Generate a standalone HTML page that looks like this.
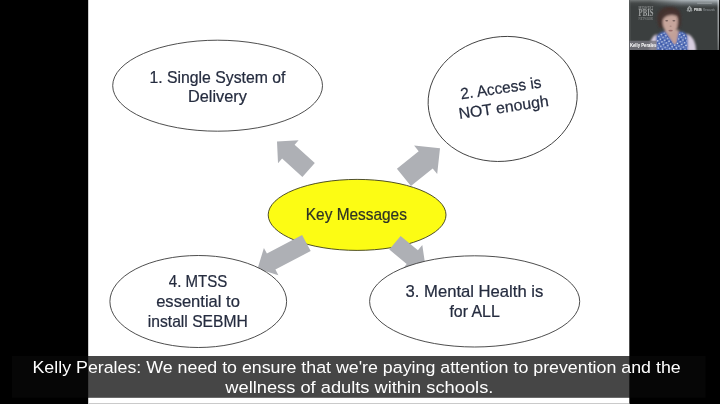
<!DOCTYPE html>
<html><head><meta charset="utf-8"><title>Key Messages</title>
<style>
html,body{margin:0;padding:0;background:#000;}
body{width:720px;height:404px;overflow:hidden;position:relative;font-family:"Liberation Sans",sans-serif;}
svg{position:absolute;left:0;top:0;display:block;opacity:0.999}
.t{font-family:"Liberation Sans",sans-serif;font-size:15.7px;fill:#252c3f;stroke:#252c3f;stroke-width:0.22px}
.cap{font-family:"Liberation Sans",sans-serif;font-size:17.4px;fill:#fff}
</style></head><body>
<svg width="720" height="404" viewBox="0 0 720 404">
<defs>
<filter id="b1" x="-20%" y="-20%" width="140%" height="140%"><feGaussianBlur stdDeviation="0.8"/></filter>
<filter id="b2" x="-20%" y="-20%" width="140%" height="140%"><feGaussianBlur stdDeviation="0.45"/></filter>
<clipPath id="cam"><rect x="629.3" y="0" width="90" height="50.1"/></clipPath>
<linearGradient id="topg" x1="0" y1="0" x2="0" y2="1"><stop offset="0" stop-color="#747979"/><stop offset="0.4" stop-color="#4a4e4e" stop-opacity="0.7"/><stop offset="1" stop-color="#3b3f3f" stop-opacity="0"/></linearGradient>
<linearGradient id="topg2" x1="0" y1="0" x2="0" y2="1"><stop offset="0" stop-color="#b4bcc1"/><stop offset="0.45" stop-color="#7d858a" stop-opacity="0.7"/><stop offset="1" stop-color="#3b3f3f" stop-opacity="0"/></linearGradient>
<linearGradient id="hmg" x1="0" y1="0" x2="1" y2="0"><stop offset="0" stop-color="#000"/><stop offset="0.45" stop-color="#ddd"/><stop offset="1" stop-color="#fff"/></linearGradient>
<mask id="hm" maskUnits="userSpaceOnUse" x="650" y="0" width="70" height="9"><rect x="650" y="0" width="70" height="9" fill="url(#hmg)"/></mask>
<linearGradient id="rg" x1="0" y1="0" x2="0" y2="1"><stop offset="0" stop-color="#d4d8db"/><stop offset="0.7" stop-color="#b4b8ba"/><stop offset="1" stop-color="#7f8383"/></linearGradient>
<linearGradient id="rmg" x1="0" y1="0" x2="1" y2="0"><stop offset="0" stop-color="#000"/><stop offset="0.6" stop-color="#999"/><stop offset="1" stop-color="#fff"/></linearGradient>
<mask id="rm" maskUnits="userSpaceOnUse" x="716" y="0" width="4" height="51"><rect x="716.6" y="0" width="2.8" height="51" fill="url(#rmg)"/></mask>
<pattern id="dots" patternUnits="userSpaceOnUse" x="655" y="31" width="4.4" height="4.6" patternTransform="rotate(14 670 40)"><rect width="4.4" height="4.6" fill="#4a66b3"/><circle cx="1.1" cy="1.2" r="0.85" fill="#e4eaf8"/><circle cx="3.3" cy="3.5" r="0.8" fill="#dbe3f5"/><circle cx="3.2" cy="1.1" r="0.55" fill="#2c4690"/><circle cx="1.0" cy="3.5" r="0.55" fill="#7f97d6"/></pattern>
<linearGradient id="camg" x1="0" y1="0" x2="0" y2="1"><stop offset="0" stop-color="#6c7070"/><stop offset="0.08" stop-color="#434747"/><stop offset="0.2" stop-color="#3b3f3e"/><stop offset="1" stop-color="#3a3d3d"/></linearGradient>
</defs>
<rect x="0" y="0" width="720" height="404" fill="#000"/>
<!-- slide -->
<rect x="88.2" y="0" width="541.1" height="404" fill="#fff"/>
<rect x="88.2" y="403.1" width="541.1" height="0.9" fill="#c4c4c4"/>
<!-- yellow center -->
<ellipse cx="357.1" cy="214.9" rx="88.9" ry="35.5" fill="#fcfc14" stroke="#3c3c1c" stroke-width="0.9"/>
<text class="t" x="305.80" y="220.1" textLength="101.09" lengthAdjust="spacingAndGlyphs" style="fill:#2e3326;stroke:#2e3326">Key Messages</text>
<!-- arrows -->
<g fill="#aeb0b5">
<polygon points="302.4,176.9 282.1,158.6 278.0,163.2 277.0,141.5 298.6,140.3 294.6,144.8 314.8,163.1"/>
<polygon points="396.9,168.8 418.7,151.2 414.1,145.5 440.0,148.3 437.2,174.1 432.7,168.4 410.9,186.0"/>
<polygon points="400.6,236.0 417.9,250.3 422.3,245.0 425.7,268.1 402.4,269.2 406.7,263.9 389.3,249.6"/>
<polygon points="310.7,251.0 275.4,269.6 278.4,275.3 257.6,268.7 263.9,247.9 266.9,253.5 302.1,234.9"/>
</g>
<!-- ellipse 1 -->
<ellipse cx="217.6" cy="85.7" rx="104.9" ry="45.5" fill="#fff" stroke="#3a3a3a" stroke-width="0.9"/>
<text class="t" x="149.51" y="83.0" textLength="135.93" lengthAdjust="spacingAndGlyphs">1. Single System of</text>
<text class="t" x="188.03" y="102.3" textLength="58.87" lengthAdjust="spacingAndGlyphs">Delivery</text>
<!-- ellipse 2 rotated -->
<ellipse cx="0" cy="0" rx="74.8" ry="62.2" transform="translate(502.65,98.95) rotate(-8.8)" fill="#fff" stroke="#3a3a3a" stroke-width="0.9"/>
<g transform="translate(503.2,98.4) rotate(-8.3)">
<text class="t" x="-41.62" y="-5.2" textLength="81.49" lengthAdjust="spacingAndGlyphs">2. Access is</text>
<text class="t" x="-46.24" y="14.2" textLength="90.73" lengthAdjust="spacingAndGlyphs">NOT enough</text>
</g>
<!-- ellipse 3 -->
<ellipse cx="474.65" cy="301.4" rx="105.05" ry="45.6" fill="#fff" stroke="#3a3a3a" stroke-width="0.9"/>
<text class="t" x="405.58" y="297.2" textLength="137.74" lengthAdjust="spacingAndGlyphs">3. Mental Health is</text>
<text class="t" x="449.40" y="316.6" textLength="50.39" lengthAdjust="spacingAndGlyphs">for ALL</text>
<!-- ellipse 4 -->
<ellipse cx="198.25" cy="301.5" rx="88.35" ry="46" fill="#fff" stroke="#3a3a3a" stroke-width="0.9"/>
<text class="t" x="168.87" y="287.1" textLength="58.47" lengthAdjust="spacingAndGlyphs">4. MTSS</text>
<text class="t" x="156.18" y="307.0" textLength="83.69" lengthAdjust="spacingAndGlyphs">essential to</text>
<text class="t" x="147.82" y="326.9" textLength="99.95" lengthAdjust="spacingAndGlyphs">install SEBMH</text>
<!-- webcam -->
<g clip-path="url(#cam)">
<rect x="629.3" y="0" width="90" height="50.1" fill="#3b3f3f"/>
<rect x="629.3" y="0" width="90" height="8" fill="url(#topg)"/>
<rect x="650" y="0" width="69.3" height="9" fill="url(#topg2)" mask="url(#hm)"/>
<rect x="629.3" y="0" width="1" height="50.1" fill="#6c7070" opacity="0.8"/>
<g filter="url(#b1)">
<!-- arms -->
<path d="M649.3 51 Q649.3 37 656.5 34 L657.5 51 Z" fill="#d6cbdd"/>
<path d="M696.2 51 Q695.5 37 687 33.5 L686.5 51 Z" fill="#d9cfe0"/>
<!-- top -->
<path d="M655.8 51 L656.3 36.5 Q660 31.5 665 31.5 L681 31.5 Q686 32 687.6 36.5 L688 51 Z" fill="#4c69b6"/>
<!-- neck/v -->
<path d="M664.5 30 L679 30 L676.3 44 L673.8 44.5 Z" fill="#c3a098"/>
<!-- hair -->
<path d="M657.2 20 Q656.6 8 668.5 6.8 Q680.6 6.4 681.2 18 Q681.6 25 679 28.5 L660 28 Q657.4 25 657.2 20 Z" fill="#43302f"/>
<!-- face -->
<path d="M662.6 20 Q662.6 12.6 670 12.6 Q677.8 12.6 677.8 20.5 Q678 28.5 674.5 32.5 Q670.6 35.6 666.6 32.5 Q662.6 28 662.6 20 Z" fill="#c6a59b"/>
<path d="M660.8 17.5 Q664.5 9.8 674 11.3 Q679.4 12.8 679.4 18 Q674 13.6 668.6 15.6 Q664 17 662.4 21 Z" fill="#4b3532"/>
</g>
<g filter="url(#b2)">
<ellipse cx="666.7" cy="20.7" rx="1.5" ry="0.8" fill="#5a4744" opacity="0.75"/>
<ellipse cx="673.9" cy="20.7" rx="1.5" ry="0.8" fill="#5a4744" opacity="0.75"/>
<ellipse cx="670.6" cy="26.3" rx="1.1" ry="0.7" fill="#a5837c" opacity="0.8"/>
<ellipse cx="670.6" cy="30.6" rx="2.2" ry="0.9" fill="#8e5c5f" opacity="0.8"/>
<path d="M675.5 15 Q678.4 22 675.4 31 Q677.5 24 677.6 19 Z" fill="#a98a83" opacity="0.7"/>
</g>
<g filter="url(#b2)">
<path d="M656.6 51 L657 37 Q660.5 32.6 665 32.4 L673.8 44.5 L676.3 44 L679.4 32.2 L681.5 32.4 Q685.6 33 686.9 37 L687.3 51 Z" fill="url(#dots)" opacity="0.92"/>
</g>
<!-- logos -->
<g filter="url(#b2)">
<text x="638.6" y="8.7" textLength="14.6" lengthAdjust="spacingAndGlyphs" style="font-family:'Liberation Serif',serif;font-size:3.2px;fill:#a3a6a6">MIDWEST</text>
<text x="638.6" y="16.1" textLength="14.9" lengthAdjust="spacingAndGlyphs" style="font-family:'Liberation Serif',serif;font-weight:bold;font-size:9.6px;fill:#a0a3a3">PBIS</text>
<text x="638.6" y="19.6" textLength="14.6" lengthAdjust="spacingAndGlyphs" style="font-family:'Liberation Serif',serif;font-size:3.2px;fill:#8f9393">NETWORK</text>
<path d="M689.5 5.9 L692 10.9 L687 10.9 Z M687.6 8 L691.4 8 L689.5 11.6 Z" fill="none" stroke="#b4b9ba" stroke-width="0.7"/>
<text x="693.9" y="10.9" textLength="8" lengthAdjust="spacingAndGlyphs" style="font-family:'Liberation Sans',sans-serif;font-weight:bold;font-size:3.6px;fill:#eceeee">PBIS</text>
<text x="702.9" y="10.9" textLength="12" lengthAdjust="spacingAndGlyphs" style="font-family:'Liberation Sans',sans-serif;font-size:3.6px;fill:#90969a">Rewards</text>
<rect x="697.2" y="2.7" width="14.7" height="1.3" fill="#cfd5d8" opacity="0.3"/>
</g>
<!-- name label -->
<rect x="629.3" y="40.7" width="27.2" height="9.4" fill="#77767e" opacity="0.8"/>
<text x="629.9" y="47.1" textLength="26.4" lengthAdjust="spacingAndGlyphs" filter="url(#b2)" style="font-family:'Liberation Sans',sans-serif;font-weight:bold;font-size:5.4px;fill:#fff">Kelly Perales</text>
<rect x="716.6" y="0" width="2.8" height="50.1" fill="url(#rg)" mask="url(#rm)"/>
</g>
<!-- caption -->
<rect x="12" y="356" width="693.6" height="41.8" fill="#080808" fill-opacity="0.75"/>
<text class="cap" x="32.51" y="372.6" textLength="648.21" lengthAdjust="spacingAndGlyphs">Kelly Perales: We need to ensure that we're paying attention to prevention and the</text>
<text class="cap" x="225.29" y="393.3" textLength="268.06" lengthAdjust="spacingAndGlyphs">wellness of adults within schools.</text>
</svg>
</body></html>
